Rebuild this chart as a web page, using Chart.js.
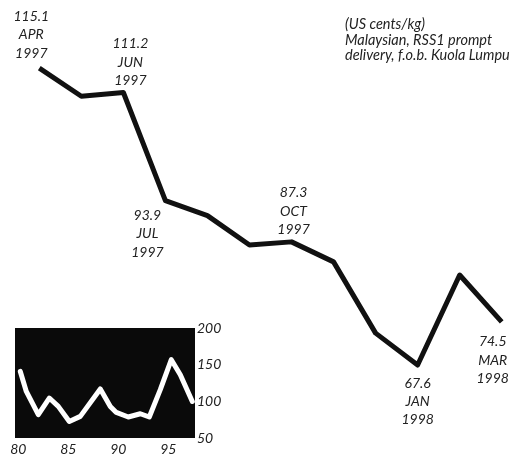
<!DOCTYPE html>
<html>
<head>
<meta charset="utf-8">
<script src="https://cdn.jsdelivr.net/npm/chart.js@4.4.1/dist/chart.umd.min.js"></script>
<style>
  html, body { margin: 0; padding: 0; background: #fff; }
  #wrap { position: relative; width: 513px; height: 455px; overflow: hidden; }
  #main { position: absolute; left: 0; top: 0; }
  #inset { position: absolute; left: 0; top: 318px; }
  #note { position: absolute; left: 345px; top: 16px; font-family: Lato, "Open Sans", sans-serif; font-style: italic; font-size: 14.5px; line-height: 15.7px; color: #222; white-space: nowrap; }
</style>
</head>
<body>
<div id="wrap">
  <canvas id="main" width="513" height="455"></canvas>
  <canvas id="inset" width="240" height="137"></canvas>
  <div id="note">(US cents/kg)<br>Malaysian, RSS1 prompt<br>delivery, f.o.b. Kuola Lumpu</div>
</div>
<script>
// ---- Data ----
const months = ["APR","MAY","JUN","JUL","AUG","SEP","OCT","NOV","DEC","JAN","FEB","MAR"];
const monthYears = ["1997","1997","1997","1997","1997","1997","1997","1997","1997","1998","1998","1998"];
const prices = [115.1, 110.6, 111.2, 93.9, 91.5, 86.8, 87.3, 84.1, 72.7, 67.6, 82.0, 74.5];
const labelledIndices = [0, 2, 3, 6, 9, 11];

const insetYears = [1980.2, 1980.8, 1982.0, 1983.1, 1984.0, 1985.1, 1986.2, 1988.2, 1989.2, 1989.8, 1991.0, 1992.2, 1993.1, 1994.2, 1995.3, 1996.2, 1997.4];
const insetValues = [140.8, 113.5, 81.8, 104.5, 93.1, 72.6, 79.5, 116.8, 93.1, 84.9, 78.6, 83.1, 78.6, 115.9, 156.8, 136.3, 99.9];
const insetXTicks = [1980, 1985, 1990, 1995];
const insetYTicks = [50, 100, 150, 200];

const FONT = 'Lato, "Open Sans", sans-serif';

// ---- Main chart ----
const labelOffsets = {
  0:  { dx: -8,  dy: -15, dir: -1 },
  2:  { dx: 7,   dy: -12, dir: -1 },
  3:  { dx: -18, dy: 15,  dir: 1 },
  6:  { dx: 2,   dy: -12.5, dir: -1 },
  9:  { dx: 0,   dy: 18,  dir: 1 },
  11: { dx: -9,  dy: 20,  dir: 1 }
};

const pointLabels = {
  id: 'pointLabels',
  afterDatasetsDraw(chart) {
    const ctx = chart.ctx;
    const meta = chart.getDatasetMeta(0);
    ctx.save();
    ctx.font = 'italic 14px ' + FONT;
    ctx.fillStyle = '#222';
    ctx.textAlign = 'center';
    ctx.textBaseline = 'middle';
    const lh = 18.3;
    labelledIndices.forEach(i => {
      const pt = meta.data[i];
      const o = labelOffsets[i];
      const lines = [prices[i].toFixed(1), months[i], monthYears[i]];
      lines.forEach((t, k) => {
        let y;
        if (o.dir < 0) y = pt.y + o.dy - (lines.length - 1 - k) * lh;
        else y = pt.y + o.dy + k * lh;
        ctx.fillText(t, pt.x + o.dx, y);
      });
    });
    ctx.restore();
  }
};

new Chart(document.getElementById('main'), {
  type: 'line',
  data: {
    labels: months.map((m, i) => m + ' ' + monthYears[i]),
    datasets: [{
      data: prices,
      borderColor: '#111',
      borderWidth: 5,
      borderJoinStyle: 'round',
      borderCapStyle: 'butt',
      pointRadius: 0,
      tension: 0,
      fill: false
    }]
  },
  options: {
    responsive: false,
    animation: false,
    layout: { padding: { left: 39.3, right: 11.3, top: 0, bottom: 0 } },
    plugins: { legend: { display: false }, tooltip: { enabled: false } },
    scales: {
      x: { display: false, offset: false },
      y: { display: false, min: 53.2, max: 126.0 }
    }
  },
  plugins: [pointLabels]
});

// ---- Inset chart ----
const blackArea = {
  id: 'blackArea',
  beforeDatasetsDraw(chart) {
    const a = chart.chartArea;
    const ctx = chart.ctx;
    ctx.save();
    ctx.fillStyle = '#0a0a0a';
    ctx.fillRect(a.left, a.top, a.right - a.left, a.bottom - a.top);
    ctx.restore();
  }
};

new Chart(document.getElementById('inset'), {
  type: 'line',
  data: {
    datasets: [{
      data: insetYears.map((x, i) => ({ x: x, y: insetValues[i] })),
      borderColor: '#fff',
      borderWidth: 5,
      borderJoinStyle: 'round',
      borderCapStyle: 'round',
      pointRadius: 0,
      tension: 0,
      fill: false
    }]
  },
  options: {
    responsive: false,
    animation: false,
    layout: { padding: { left: 15, top: 10, right: 0, bottom: 0 } },
    plugins: { legend: { display: false }, tooltip: { enabled: false } },
    scales: {
      x: {
        type: 'linear',
        min: 1979.67, max: 1997.67,
        grid: { display: false, drawTicks: false },
        border: { display: false },
        afterBuildTicks: s => { s.ticks = insetXTicks.map(v => ({ value: v })); },
        afterFit: s => { s.height = 17; s.paddingLeft = 0; s.paddingRight = 0; },
        ticks: {
          padding: 3, maxRotation: 0, autoSkip: false,
          color: '#222',
          font: { family: FONT, style: 'italic', size: 14 },
          callback: v => String(v).slice(2)
        }
      },
      y: {
        position: 'right',
        min: 50, max: 200,
        grid: { display: false, drawTicks: false },
        border: { display: false },
        afterBuildTicks: s => { s.ticks = insetYTicks.map(v => ({ value: v })); },
        afterFit: s => { s.width = 45; s.paddingTop = 0; s.paddingBottom = 0; },
        ticks: {
          padding: 2,
          color: '#222',
          font: { family: FONT, style: 'italic', size: 14 }
        }
      }
    }
  },
  plugins: [blackArea]
});
</script>
</body>
</html>
